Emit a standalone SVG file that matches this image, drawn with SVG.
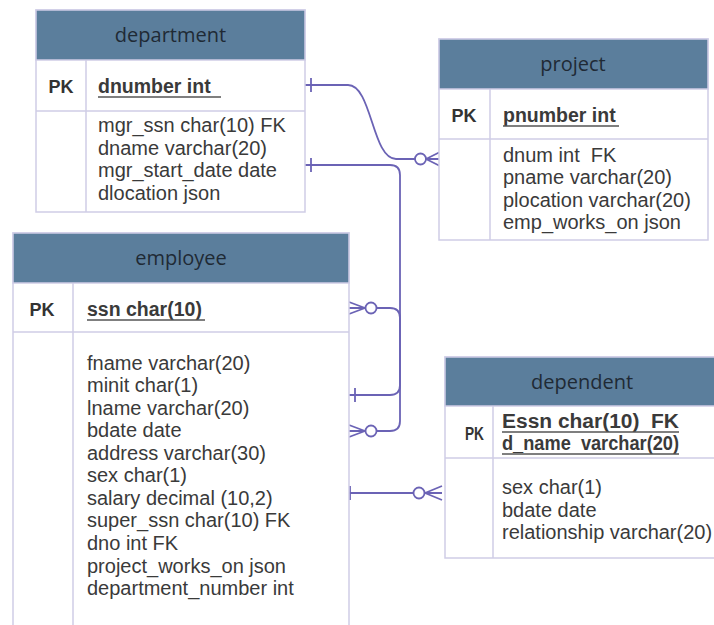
<svg xmlns="http://www.w3.org/2000/svg" width="714" height="625" viewBox="0 0 714 625">
  <defs>
    <style>
      .box { fill: #ffffff; stroke: #cfcde6; stroke-width: 1.5; }
      .head { fill: #5b7e9c; stroke: #cfcde6; stroke-width: 1.5; }
      .sep { stroke: #cfcde6; stroke-width: 1.5; fill: none; }
      .title { font-family: "Open Sans", "Liberation Sans", sans-serif; font-size: 20px; fill: #1f2a35; text-anchor: middle; }
      .pk { font-family: "Liberation Sans", Arial, sans-serif; font-size: 18px; font-weight: bold; fill: #333333; text-anchor: middle; }
      .key { font-family: "Liberation Sans", Arial, sans-serif; font-size: 19.5px; font-weight: bold; fill: #3a3a3a; }
      .attr { font-family: "Liberation Sans", Arial, sans-serif; font-size: 20px; fill: #3a3a3a; }
      .ul { stroke: #555555; stroke-width: 1.3; }
      .rel { fill: none; stroke: #6b63b5; stroke-width: 1.8; }
      .end { fill: #ffffff; stroke: #6b63b5; stroke-width: 1.8; }
    </style>
  </defs>

  <rect x="0" y="0" width="714" height="625" fill="#ffffff"/>

  <!-- connectors -->
  <g id="connectors">
    <!-- department.dnumber -> project -->
    <path class="rel" d="M305,85 H348 C372,85 372,159 396,159 H415"/>
    <line class="rel" x1="311" y1="78" x2="311" y2="92"/>
    <circle class="end" cx="420.5" cy="159" r="5.5"/>
    <path class="rel" d="M426,159 L440,152 M426,159 H440 M426,159 L440,166"/>

    <!-- department -> employee (lower many end) -->
    <path class="rel" d="M305,165 H390 Q400,165 400,175 V421 Q400,431 390,431 H376"/>
    <line class="rel" x1="311" y1="158" x2="311" y2="172"/>
    <circle class="end" cx="371" cy="431" r="5.5"/>
    <path class="rel" d="M365,431 L349,425 M365,431 H349 M365,431 L349,437"/>

    <!-- employee -> employee.ssn -->
    <path class="rel" d="M349,395 H390 Q400,395 400,385 V318 Q400,308 390,308 H376"/>
    <line class="rel" x1="355" y1="388" x2="355" y2="402"/>
    <circle class="end" cx="371" cy="308" r="5.5"/>
    <path class="rel" d="M365,308 L349,302 M365,308 H349 M365,308 L349,314"/>

    <!-- employee -> dependent -->
    <path class="rel" d="M343,493 H413"/>
    <line class="rel" x1="350" y1="486" x2="350" y2="500"/>
    <circle class="end" cx="419" cy="493" r="5.5"/>
    <path class="rel" d="M425,493 L442,486 M425,493 H442 M425,493 L442,500"/>
  </g>

  <!-- department -->
  <g id="department">
    <rect class="box" x="36" y="10" width="269" height="202"/>
    <rect class="head" x="36" y="10" width="269" height="50"/>
    <line class="sep" x1="36" y1="111" x2="305" y2="111"/>
    <line class="sep" x1="86" y1="60" x2="86" y2="212"/>
    <text class="title" x="170.5" y="42">department</text>
    <text class="pk" x="61" y="93">PK</text>
    <text class="key" x="98" y="93">dnumber int</text>
    <line class="ul" x1="98" y1="97" x2="221" y2="97"/>
    <text class="attr" x="98" y="132">mgr_ssn char(10) FK</text>
    <text class="attr" x="98" y="154.5">dname varchar(20)</text>
    <text class="attr" x="98" y="177">mgr_start_date date</text>
    <text class="attr" x="98" y="199.5">dlocation json</text>
  </g>

  <!-- project -->
  <g id="project">
    <rect class="box" x="439" y="39" width="269" height="201"/>
    <rect class="head" x="439" y="39" width="269" height="50"/>
    <line class="sep" x1="439" y1="139" x2="708" y2="139"/>
    <line class="sep" x1="490" y1="89" x2="490" y2="240"/>
    <text class="title" x="573" y="71">project</text>
    <text class="pk" x="464" y="122">PK</text>
    <text class="key" x="503" y="122">pnumber int</text>
    <line class="ul" x1="503" y1="126" x2="619" y2="126"/>
    <text class="attr" x="503" y="161.5" xml:space="preserve">dnum int  FK</text>
    <text class="attr" x="503" y="184">pname varchar(20)</text>
    <text class="attr" x="503" y="206.5">plocation varchar(20)</text>
    <text class="attr" x="503" y="229">emp_works_on json</text>
  </g>

  <!-- employee -->
  <g id="employee">
    <rect class="box" x="13" y="233" width="336" height="410"/>
    <rect class="head" x="13" y="233" width="336" height="50"/>
    <line class="sep" x1="13" y1="332" x2="349" y2="332"/>
    <line class="sep" x1="73" y1="283" x2="73" y2="643"/>
    <text class="title" x="181" y="265">employee</text>
    <text class="pk" x="42" y="316">PK</text>
    <text class="key" x="87" y="316">ssn char(10)</text>
    <line class="ul" x1="87" y1="320" x2="205" y2="320"/>
    <text class="attr" x="87" y="369.5">fname varchar(20)</text>
    <text class="attr" x="87" y="392">minit char(1)</text>
    <text class="attr" x="87" y="414.6">lname varchar(20)</text>
    <text class="attr" x="87" y="437.2">bdate date</text>
    <text class="attr" x="87" y="459.7">address varchar(30)</text>
    <text class="attr" x="87" y="482.3">sex char(1)</text>
    <text class="attr" x="87" y="504.8">salary decimal (10,2)</text>
    <text class="attr" x="87" y="527.4">super_ssn char(10) FK</text>
    <text class="attr" x="87" y="549.9">dno int FK</text>
    <text class="attr" x="87" y="572.5">project_works_on json</text>
    <text class="attr" x="87" y="595">department_number int</text>
  </g>

  <!-- dependent -->
  <g id="dependent">
    <rect class="box" x="445" y="357" width="290" height="201"/>
    <rect class="head" x="445" y="357" width="290" height="49"/>
    <line class="sep" x1="445" y1="458" x2="735" y2="458"/>
    <line class="sep" x1="493" y1="406" x2="493" y2="558"/>
    <text class="title" x="582" y="388.5">dependent</text>
    <text class="pk" x="474.5" y="440" textLength="19" lengthAdjust="spacingAndGlyphs">PK</text>
    <text class="key" x="502" y="428" xml:space="preserve" textLength="177" lengthAdjust="spacingAndGlyphs">Essn char(10)  FK</text>
    <line class="ul" x1="502" y1="432" x2="679" y2="432"/>
    <text class="key" x="502" y="450" xml:space="preserve" textLength="177" lengthAdjust="spacingAndGlyphs">d_name  varchar(20)</text>
    <line class="ul" x1="502" y1="454" x2="679" y2="454"/>
    <text class="attr" x="502" y="494">sex char(1)</text>
    <text class="attr" x="502" y="516.5">bdate date</text>
    <text class="attr" x="502" y="538.5">relationship varchar(20)</text>
  </g>
</svg>
